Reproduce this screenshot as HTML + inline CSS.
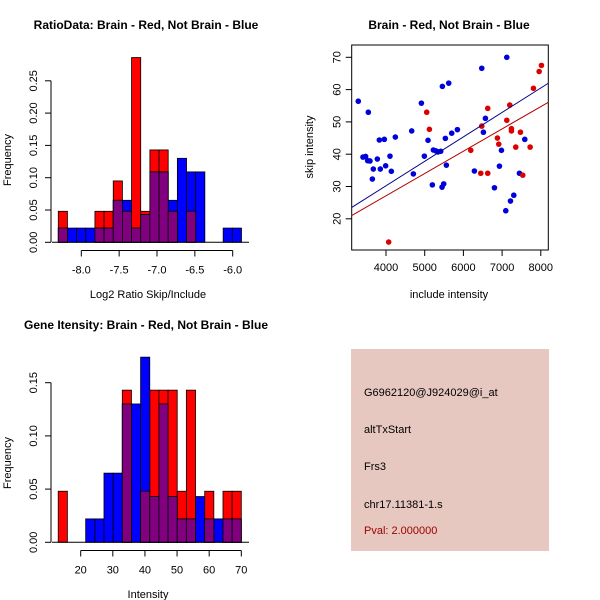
<!DOCTYPE html>
<html><head><meta charset="utf-8"><style>
body{margin:0;background:#fff}
svg{display:block;font-family:"Liberation Sans",sans-serif}
</style></head><body>
<svg id="c" width="600" height="600"></svg>
<script>
const ratioBinStart=-8.304, ratioBinWidth=0.121;
const ratioRed=[0.048,0,0,0,0.048,0.048,0.095,0.048,0.286,0.048,0.143,0.143,0.048,0,0.048,0,0,0,0,0];
const ratioBlue=[0.022,0.022,0.022,0.022,0.022,0.022,0.065,0.065,0.022,0.043,0.109,0.109,0.065,0.13,0.109,0.109,0,0,0.022,0.022];
const ratioXTicks=[-8.0,-7.5,-7.0,-6.5,-6.0];
const ratioXLabels=["-8.0","-7.5","-7.0","-6.5","-6.0"];
const ratioYTicks=[0,0.05,0.10,0.15,0.20,0.25];
const ratioYLabels=["0.00","0.05","0.10","0.15","0.20","0.25"];
const intBinStart=13.0, intBinWidth=2.85;
const intRed=[0.048,0,0,0,0,0,0,0.143,0,0.048,0.143,0.143,0.143,0.048,0.143,0,0.048,0,0.048,0.048];
const intBlue=[0,0,0,0.022,0.022,0.065,0.065,0.13,0.13,0.174,0.043,0.13,0.043,0.022,0.022,0.043,0.022,0.022,0.022,0.022];
const intXTicks=[20,30,40,50,60,70];
const intYTicks=[0,0.05,0.10,0.15];
const intYLabels=["0.00","0.05","0.10","0.15"];
const blueX=[3284,3405,3474,3526,3586,3543,3672,3647,3776,3828,3853,3957,3991,4103,4138,4241,4664,4707,4914,4991,5086,5198,5224,5293,5345,5414,5448,5491,5457,5621,5534,5560,5698,5845,6284,6474,6517,6569,6802,6931,6983,7121,7095,7216,7302,7448,7586];
const blueY=[56.4,39.1,39.3,38,37.9,53,35.4,32.3,38.5,44.4,35.4,44.6,36.4,39.4,34.7,45.3,47.2,33.9,55.8,39.4,44.3,30.5,41.3,41,40.7,40.9,29.8,30.8,61,62,44.9,36.6,46.5,47.6,34.8,66.6,46.8,51.1,29.6,36.3,41.2,70,22.5,25.5,27.3,34.1,44.6];
const redX=[4069,5052,5121,6190,6448,6474,6629,6629,6879,6914,7121,7198,7241,7241,7353,7474,7534,7724,7810,7957,8017];
const redY=[12.8,53,47.7,41.2,34.1,48.7,34.1,54.2,45,43.1,50.5,55.2,47.9,47.2,42.2,46.8,33.5,42.2,60.4,65.6,67.5];
const fitIntercept=[-0.06,-0.47];
const fitSlope=[0.00757,0.0069];
const scXTicks=[4000,5000,6000,7000,8000];
const scYTicks=[20,30,40,50,60,70];

const svg=document.getElementById('c');
const NS='http://www.w3.org/2000/svg';
function mk(t,a,p){const e=document.createElementNS(NS,t);for(const k in a)e.setAttribute(k,a[k]);(p||svg).appendChild(e);return e;}
function txt(s,x,y,o,p){const e=mk('text',Object.assign({x:x,y:y,'font-size':11,'text-anchor':'middle',fill:'#000'},o||{}),p);e.textContent=s;return e;}

function hist(name,g0,sx,sy,start,w,red,blue,xt,xl,yt,yl,y0,x0,x1,title,xlab,yMid,tY,xlabY){
  const g=mk('g',{});
  
  
  const draw=(vals,col,nm)=>vals.forEach((v,i)=>{if(v<=0)return;
    const r=mk('rect',{x:sx(start+i*w),y:sy(v),width:sx(start+(i+1)*w)-sx(start+i*w),height:sy(0)-sy(v),fill:col,stroke:'#000','stroke-width':0.8},g);
    
    });
  draw(red,'#ff0000','red');
  draw(blue,'#0000ff','blue');
  draw(red.map((v,i)=>Math.min(v,blue[i])),'#800080','overlap');
  const ax=mk('g',{stroke:'#000','stroke-width':1},g);
  
  
  mk('line',{x1:sx(xt[0]),x2:sx(xt[xt.length-1]),y1:y0,y2:y0},ax);
  xt.forEach((t,i)=>{mk('line',{x1:sx(t),x2:sx(t),y1:y0,y2:y0+6},ax);txt(xl[i],sx(t),y0+23,{stroke:'none'},g);});
  mk('line',{x1:x0,x2:x1,y1:sy(0),y2:sy(0),stroke:'#000'},g);
  const ay=mk('g',{stroke:'#000'},g);
  
  
  mk('line',{x1:51,x2:51,y1:sy(yt[0]),y2:sy(yt[yt.length-1])},ay);
  yt.forEach((t,i)=>{mk('line',{x1:45,x2:51,y1:sy(t),y2:sy(t)},ay);txt(yl[i],0,0,{transform:`translate(37,${sy(t)}) rotate(-90)`},g);});
  const tt=txt(title,146,tY,{'font-weight':'bold','font-size':12},g);
  
  
  const xla=txt(xlab,148,xlabY,{},g);
  
  
  const yla=txt('Frequency',0,0,{transform:`translate(11,${yMid}) rotate(-90)`},g);
  
  
}
// top-left
const s1x=v=>81.3+(v+8)*75.7, s1y=v=>242.3-v*646;
hist('ratio-histogram',null,s1x,s1y,ratioBinStart,ratioBinWidth,ratioRed,ratioBlue,ratioXTicks,ratioXLabels,ratioYTicks,ratioYLabels,250.5,52,249,'RatioData: Brain - Red, Not Brain - Blue','Log2 Ratio Skip/Include',160,29,298);
// bottom-left
const s2x=v=>80.7+(v-20)*3.212, s2y=v=>542.3-v*1064;
hist('intensity-histogram',null,s2x,s2y,intBinStart,intBinWidth,intRed,intBlue,intXTicks,intXTicks.map(String),intYTicks,intYLabels,550.5,52,249,'Gene Itensity: Brain - Red, Not Brain - Blue','Intensity',463,329,598);

// scatter
const sc=mk('g',{});


const px=v=>386+(v-4000)*0.0387, py=v=>57.3+(70-v)*3.23;
const L=351.7,R=548.3,T=45,B=250;
mk('rect',{x:L,y:T,width:R-L,height:B-T,fill:'none',stroke:'#000'},sc);
blueX.forEach((v,i)=>{const c=mk('circle',{cx:px(v),cy:py(blueY[i]),r:2.8,fill:'#0000dd'},sc);
  
  });
redX.forEach((v,i)=>{const c=mk('circle',{cx:px(v),cy:py(redY[i]),r:2.8,fill:'#dd0000'},sc);
  
  });
const xL=4000+(L-386)/0.0387, xR=4000+(R-386)/0.0387;
['#00008b','#b00000'].forEach((col,k)=>{const l=mk('line',{x1:L,x2:R,y1:py(fitIntercept[k]+fitSlope[k]*xL),y2:py(fitIntercept[k]+fitSlope[k]*xR),stroke:col,'stroke-width':1},sc);
  
  });
scXTicks.forEach(t=>{mk('line',{x1:px(t),x2:px(t),y1:B,y2:B+6,stroke:'#000'},sc);txt(String(t),px(t),B+21,{},sc);});
scYTicks.forEach(t=>{mk('line',{x1:L-6,x2:L,y1:py(t),y2:py(t),stroke:'#000'},sc);txt(String(t),0,0,{transform:`translate(${L-11},${py(t)}) rotate(-90)`},sc);});
const st=txt('Brain - Red, Not Brain - Blue',449,29,{'font-weight':'bold','font-size':12},sc);


const sxl=txt('include intensity',449,298,{},sc);


const syl=txt('skip intensity',0,0,{transform:'translate(313,147) rotate(-90)'},sc);



// info box
const ib=mk('g',{});


mk('rect',{x:351,y:349,width:198,height:202,fill:'#e6c8c1'},ib);
[['G6962120@J924029@i_at',396,'#000'],['altTxStart',433,'#000'],['Frs3',470,'#000'],['chr17.11381-1.s',508,'#000'],['Pval: 2.000000',534,'#a00000']].forEach(a=>{
  const t=txt(a[0],364,a[1],{'text-anchor':'start',fill:a[2]},ib);
  
  });
</script>
</body></html>
